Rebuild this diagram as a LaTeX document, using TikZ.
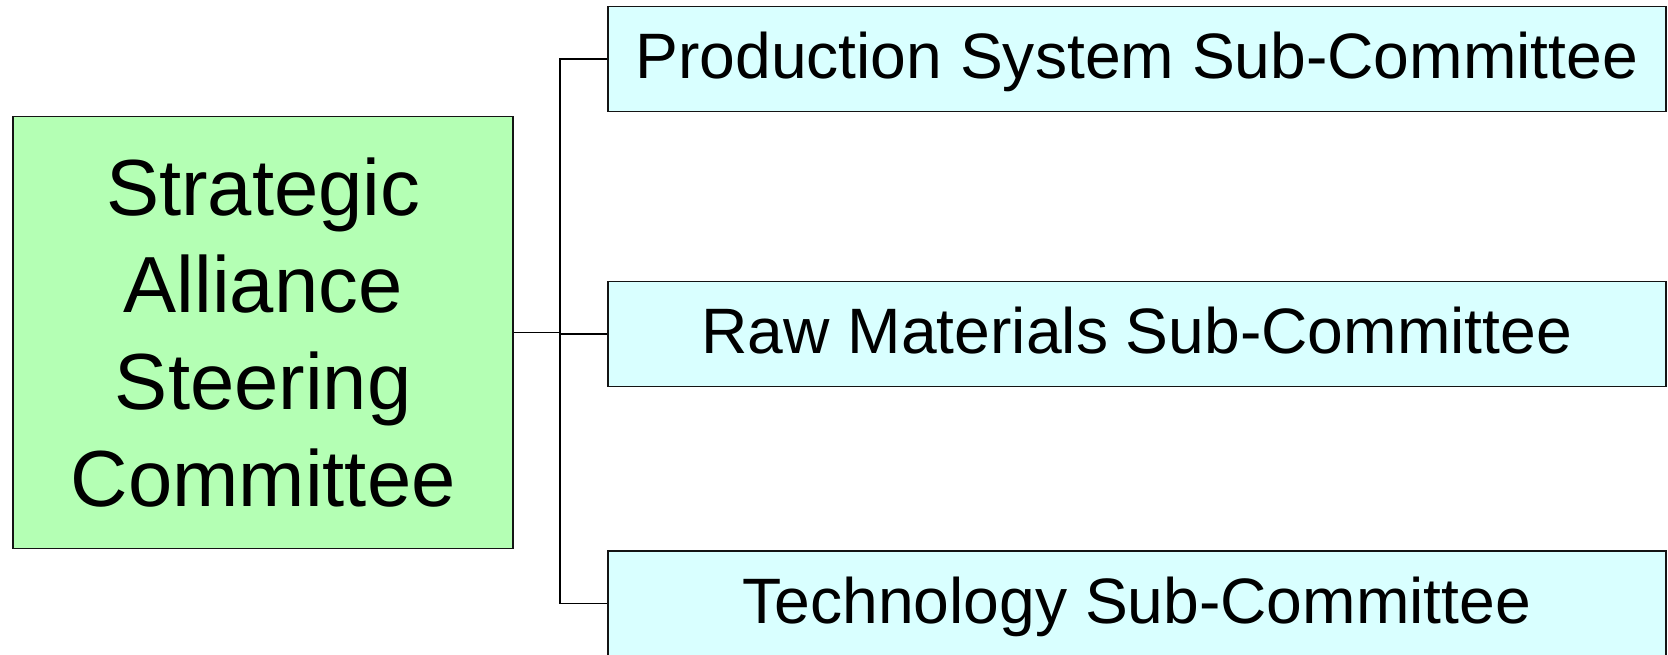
\documentclass[tikz,border=0pt]{standalone}
\usepackage{fontspec}
\setmainfont{Liberation Sans}
\definecolor{steerfill}{RGB}{180,255,180}
\definecolor{subfill}{RGB}{217,255,255}
\definecolor{edgeline}{RGB}{20,20,20}
\begin{document}
\begin{tikzpicture}[x=1pt,y=-1pt,
  steerbox/.style={draw=edgeline,line width=1.5pt,fill=steerfill,inner sep=0pt,
    minimum width=500pt,minimum height=432pt,align=center,
    font=\fontsize{79.6pt}{97pt}\selectfont},
  subbox/.style={draw=edgeline,line width=1.5pt,fill=subfill,inner sep=0pt,
    minimum width=1058pt,minimum height=105pt,text height=46pt,text depth=7pt,
    font=\fontsize{64.2pt}{76pt}\selectfont},
  link/.style={draw=black,line width=1.6pt}]
\useasboundingbox (0,0) rectangle (1668,654);
\node[steerbox] (steer) at (263.2,332.6) {Strategic\\Alliance\\Steering\\Committee};
\node[subbox] (prod) at (1136.8,59) {Production System Sub-Committee};
\node[subbox] (raw)  at (1136.8,334) {Raw Materials Sub-Committee};
\node[subbox] (tech) at (1136.8,603.5) {Technology Sub-Committee};
% trunk from the steering committee to the common spine
\draw[link] (steer.east) -- ++(47,0) coordinate (junction);
% spine feeding the three sub-committees
\draw[link] (prod.west) -- ++(-47,0) |- (tech.west);
\draw[link] (raw.west) -- ++(-47,0);
\end{tikzpicture}
\end{document}
